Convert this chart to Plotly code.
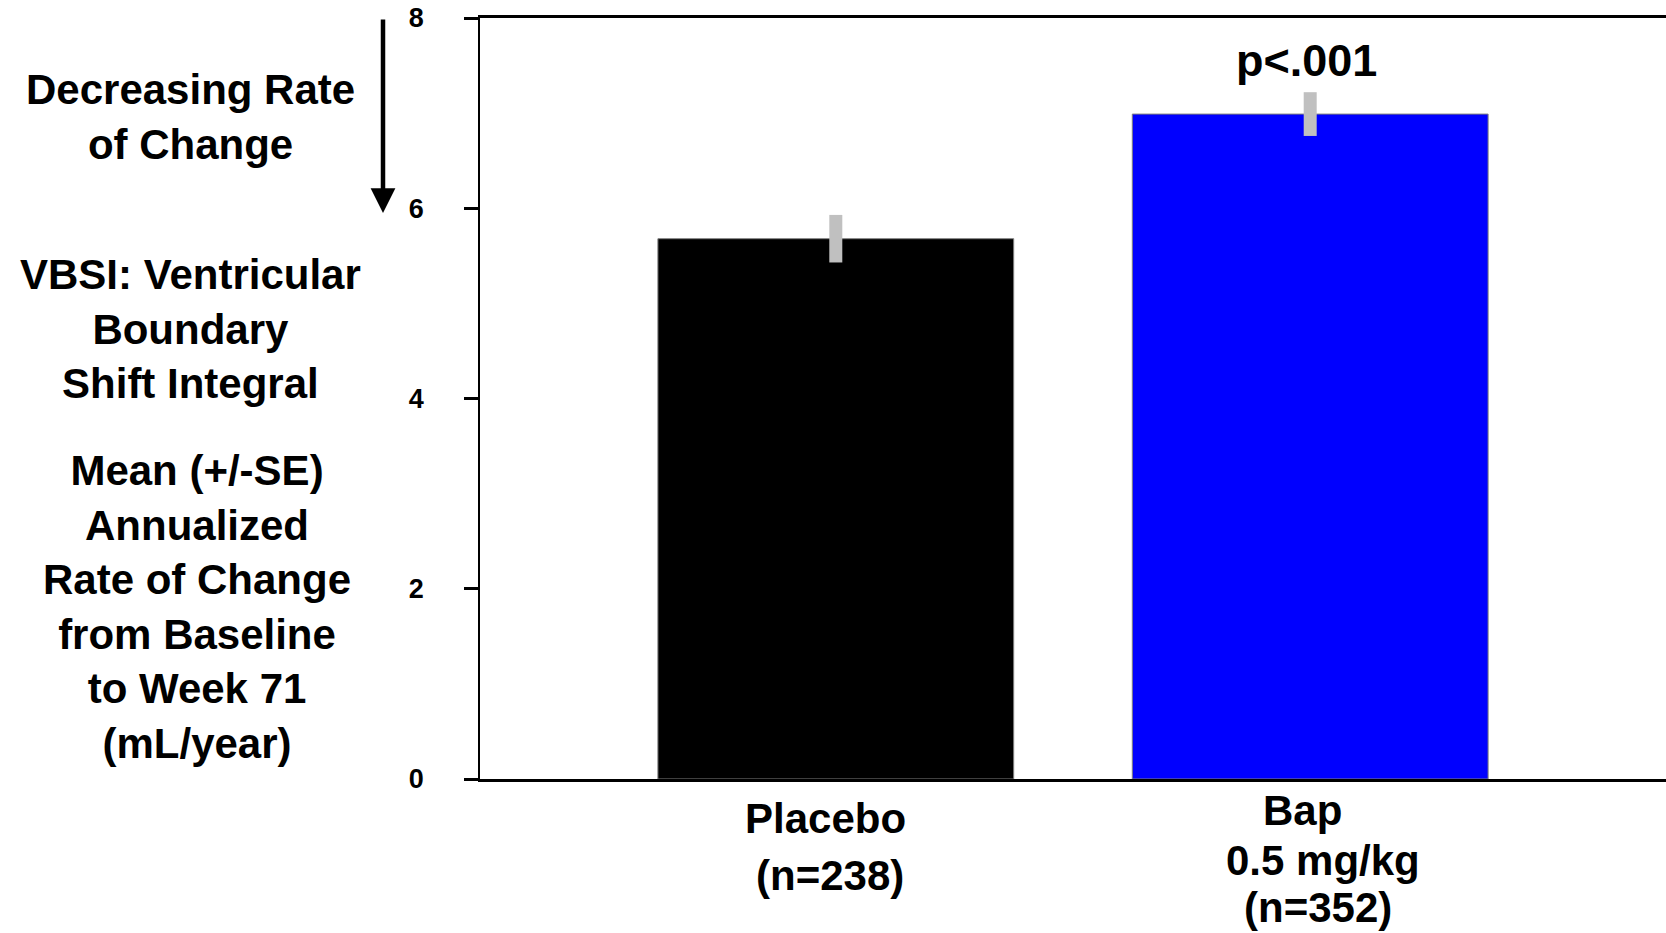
import plotly.graph_objects as go

# ---- data ----
categories = ["Placebo", "Bap 0.5 mg/kg"]
means = [5.68, 6.99]
se = [0.25, 0.23]
bar_colors = ["#000000", "#0000ff"]
y_ticks = [0, 2, 4, 6, 8]
p_label = "p<.001"

FONT = "Liberation Sans, Arial, sans-serif"
W, H = 1666, 933
L, R, T, B = 480, 0, 18, 154
PW, PH = W - L - R, H - T - B

def px_x(px):
    return (px - L) / PW

def px_y(py):
    return (H - B - py) / PH

fig = go.Figure()
fig.add_trace(go.Bar(
    x=[0, 1], y=means, width=0.75,
    marker=dict(color=bar_colors, line=dict(color="#7f7f7f", width=1)),
    error_y=dict(type="data", array=se, color="#c0c0c0", thickness=13, width=0),
    showlegend=False,
))

ann = []
# p-value
ann.append(dict(x=1, y=px_y(61), xref="x", yref="paper", text=f"<b>{p_label}</b>",
                showarrow=False, xshift=-4, yanchor="middle",
                font=dict(family=FONT, size=45, color="black")))
# category labels
lab_lines = [
    (0, -10, 818, "Placebo"), (0, -6, 876, "(n=238)"),
    (1, -8, 810, "Bap"), (1, 13, 861, "0.5 mg/kg"), (1, 8, 907, "(n=352)"),
]
for xi, xs, py, txt in lab_lines:
    ann.append(dict(x=xi, xshift=xs, y=px_y(py), xref="x", yref="paper",
                    text=f"<b>{txt}</b>", showarrow=False, yanchor="middle",
                    font=dict(family=FONT, size=42, color="black")))
# left text blocks
blocks = [
    (190, 117, "Decreasing Rate<br>of Change"),
    (190, 329, "VBSI: Ventricular<br>Boundary<br>Shift Integral"),
    (197, 607, "Mean (+/-SE)<br>Annualized<br>Rate of Change<br>from Baseline<br>to Week 71<br>(mL/year)"),
]
for px, py, txt in blocks:
    ann.append(dict(x=px_x(px), y=px_y(py), xref="paper", yref="paper",
                    text=f"<b>{txt}</b>", showarrow=False, align="center",
                    xanchor="center", yanchor="middle",
                    font=dict(family=FONT, size=42, color="black")))
# arrow
ann.append(dict(x=px_x(383), y=px_y(213), xref="paper", yref="paper", text="",
                showarrow=True, arrowhead=2, arrowsize=1.1, arrowwidth=4.5,
                arrowcolor="black", ax=0, ay=-195, axref="pixel", ayref="pixel"))

fig.update_layout(
    width=W, height=H,
    margin=dict(l=L, r=R, t=T, b=B, pad=0),
    paper_bgcolor="white", plot_bgcolor="white",
    font=dict(family=FONT, color="black"),
    annotations=ann,
    xaxis=dict(range=[-0.75, 1.75], showticklabels=False, ticks="",
               showline=True, linecolor="black", linewidth=3, mirror=True,
               showgrid=False, zeroline=False, fixedrange=True),
    yaxis=dict(range=[0, 8], tickvals=y_ticks, ticks="outside", ticklen=14,
               tickwidth=3, tickcolor="black", showline=True, linecolor="black",
               linewidth=1.5, showgrid=False, zeroline=False,
               tickfont=dict(family=FONT, size=27, color="black", weight="bold"),
               ticklabelstandoff=35),
)

fig.write_html("out.html")
